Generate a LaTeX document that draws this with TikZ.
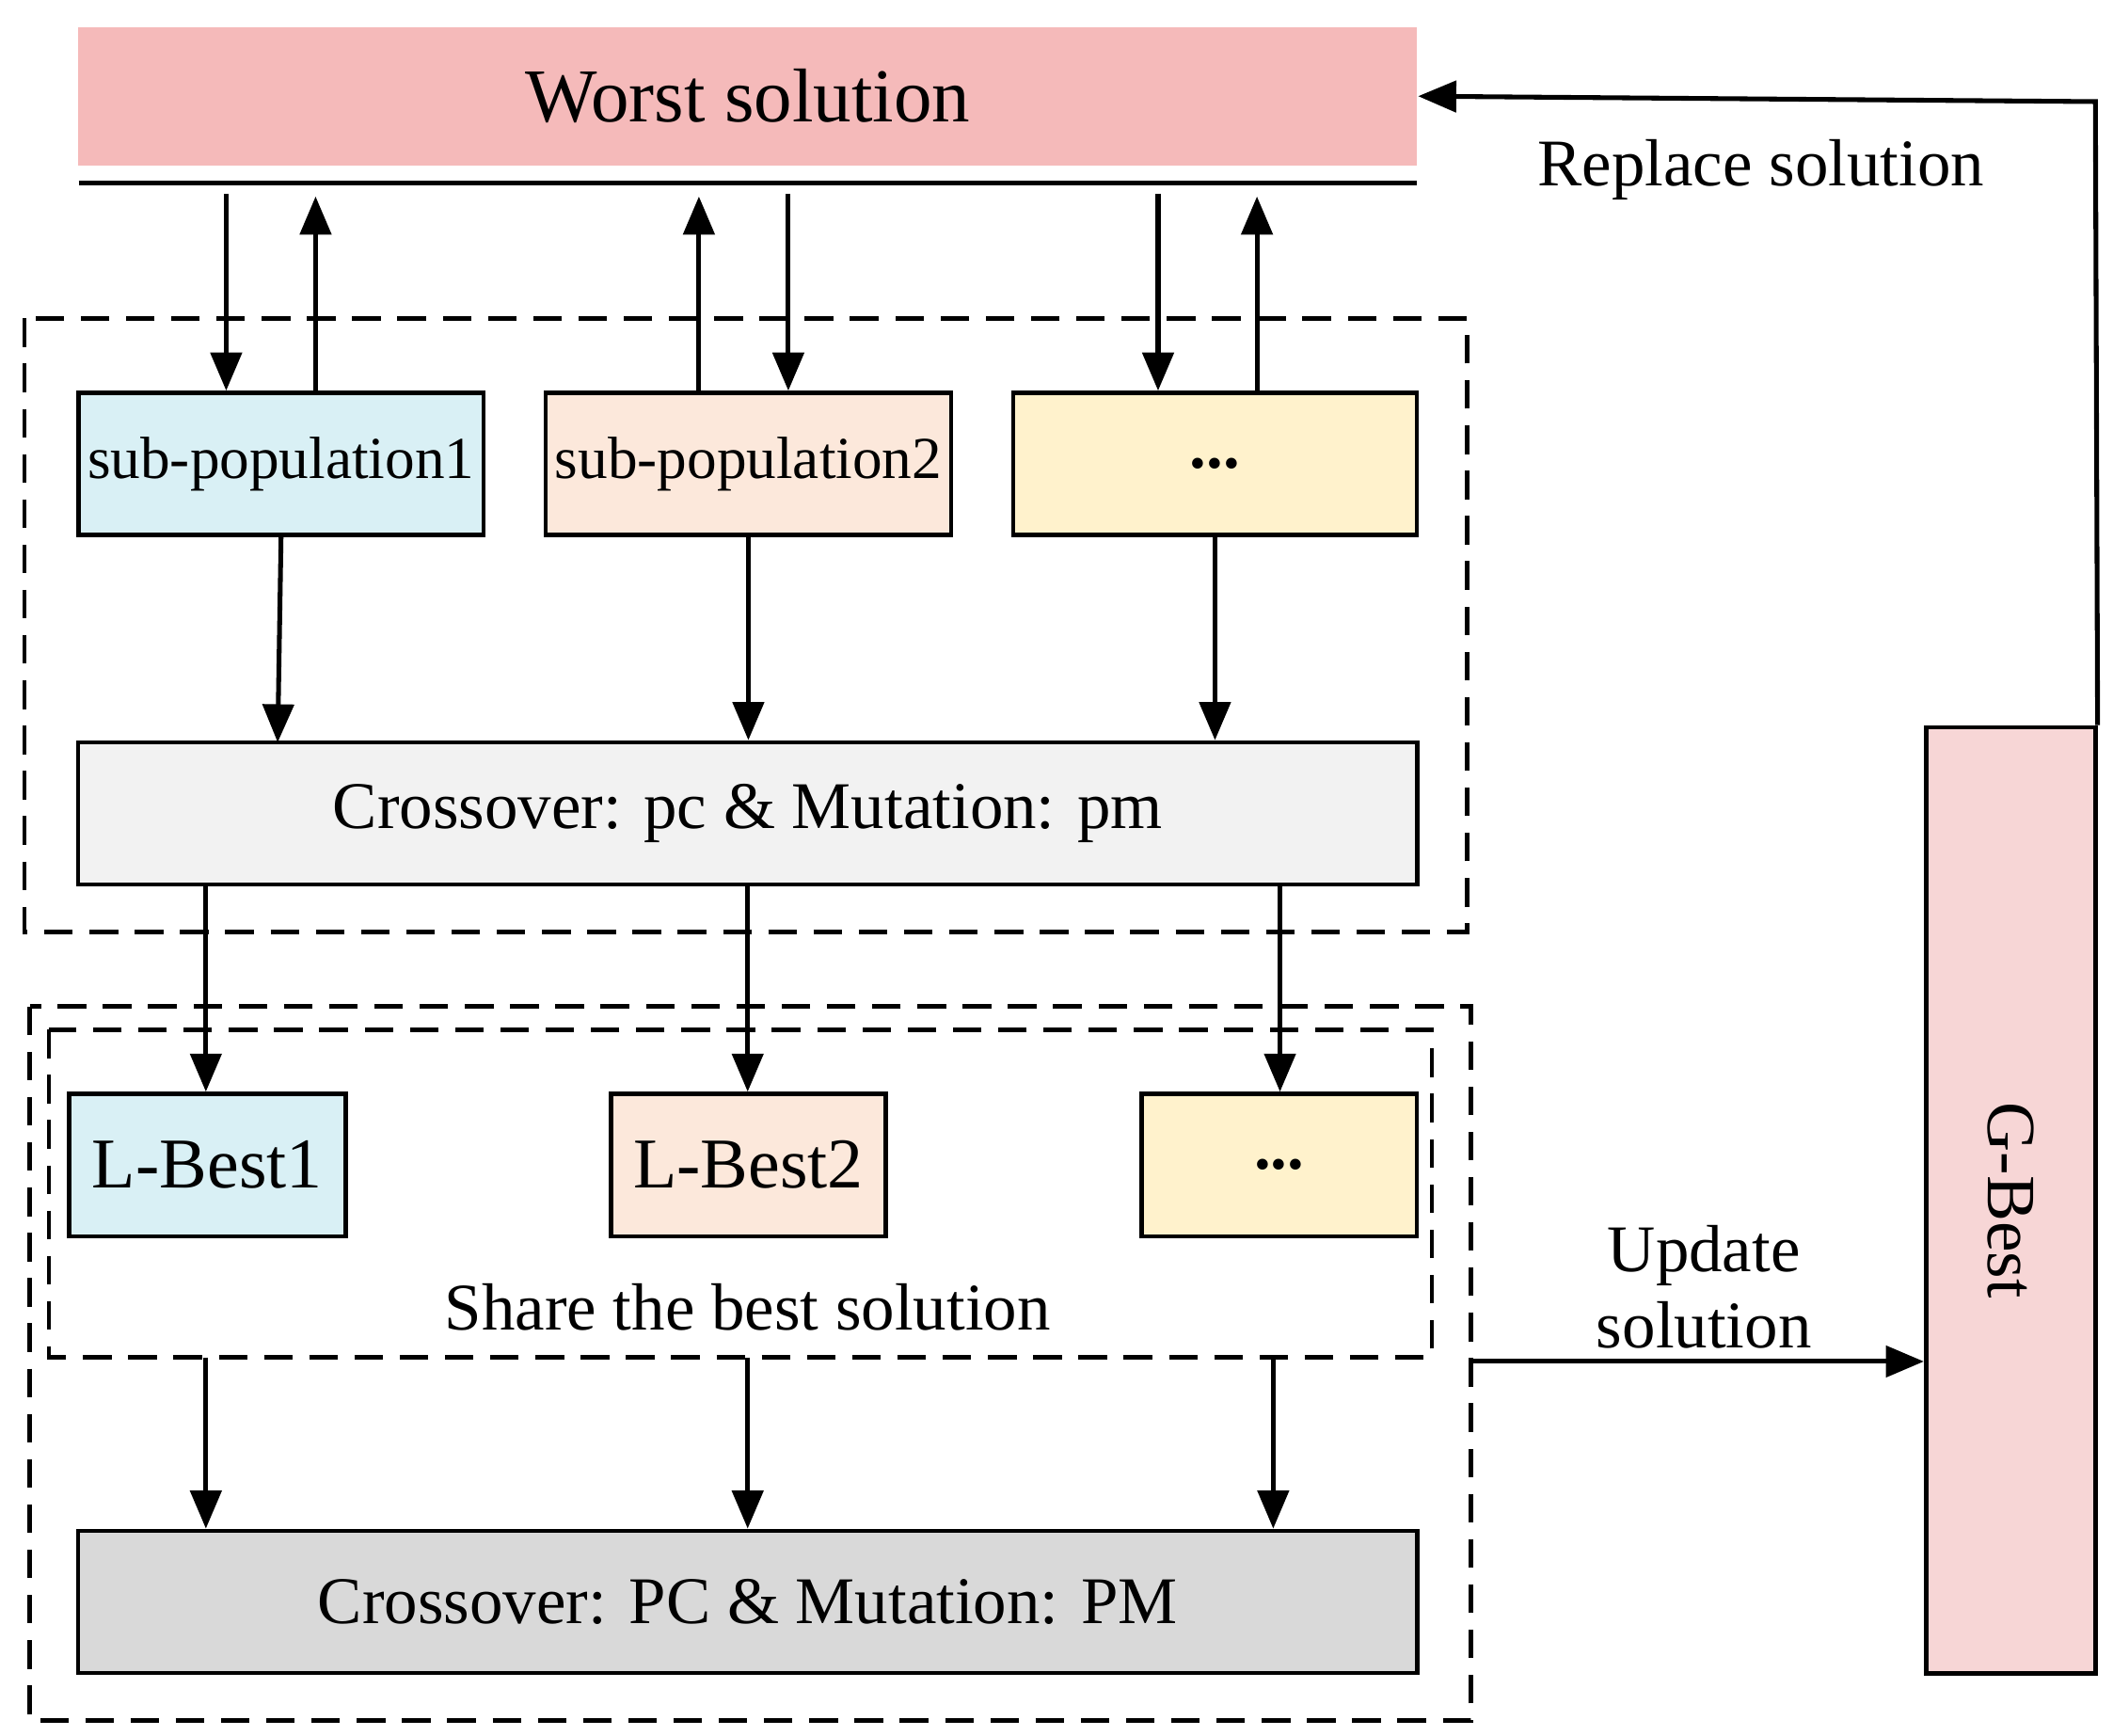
\documentclass[tikz,border=0pt]{standalone}
\usepackage{fontspec}
\setmainfont{Liberation Serif}
\usetikzlibrary{arrows.meta}
\definecolor{worstpink}{rgb}{0.96,0.73,0.73}
\definecolor{gbpink}{rgb}{0.97,0.84,0.84}
\definecolor{subblue}{rgb}{0.85,0.94,0.96}
\definecolor{subpeach}{rgb}{0.99,0.91,0.86}
\definecolor{subyellow}{rgb}{1,0.95,0.8}
\definecolor{crlight}{rgb}{0.95,0.95,0.95}
\definecolor{crgray}{rgb}{0.85,0.85,0.85}
\begin{document}
\begin{tikzpicture}[x=0.01cm,y=-0.01cm,line cap=butt,>={Triangle[length=8pt,width=6.5pt]},
	box/.style={draw,line width=0.9pt,inner sep=0pt},
	dashbox/.style={draw,line width=0.9pt,dash pattern=on 6pt off 3.5pt},
	flow/.style={->,line width=1pt}]
		\useasboundingbox (0,0) rectangle (1560,1281);
		\node[fill=worstpink,minimum width=9.88cm,minimum height=1.02cm,font=\fontsize{16}{18}\selectfont] (worst) at (552,71) {Worst solution};
		\draw[line width=1pt] (58,135) -- (1046,135);
		\draw[dashbox] (18,235) rectangle (1083,688);
		\draw[dashbox] (22,743) rectangle (1086,1270);
		\draw[dashbox] (36,760) rectangle (1057,1002);
		\begin{scope}[every node/.style={box,minimum height=1.05cm}]
			\node[fill=subblue,minimum width=2.99cm,font=\fontsize{12.5}{14}\selectfont] (sp1) at (207.5,342.5) {sub-population1};
			\node[fill=subpeach,minimum width=2.99cm,font=\fontsize{12.5}{14}\selectfont] (sp2) at (552.5,342.5) {sub-population2};
			\node[fill=subyellow,minimum width=2.98cm,font=\fontsize{14}{16}\selectfont\bfseries] (sp3) at (897,342.5) {...};
			\node[fill=crlight,minimum width=9.88cm,font=\fontsize{14}{16}\selectfont] (cr1) at (552,600.5) {Crossover: pc \& Mutation: pm};
			\node[fill=subblue,minimum width=2.04cm,font=\fontsize{15}{17}\selectfont] (lb1) at (153,860) {L-Best1};
			\node[fill=subpeach,minimum width=2.03cm,font=\fontsize{15}{17}\selectfont] (lb2) at (552.5,860) {L-Best2};
			\node[fill=subyellow,minimum width=2.03cm,font=\fontsize{14}{16}\selectfont\bfseries] (lb3) at (944.5,860) {...};
			\node[fill=crgray,minimum width=9.88cm,font=\fontsize{14}{16}\selectfont] (cr2) at (552,1182.5) {Crossover: PC \& Mutation: PM};
			\node[fill=gbpink,minimum width=6.98cm,minimum height=1.25cm,rotate=-90,font=\fontsize{14.5}{16}\selectfont] (gb) at (1484.5,886) {G-Best};
		\end{scope}
		\node[font=\fontsize{14}{16}\selectfont] (share) at (552,965) {Share the best solution};
		\node[font=\fontsize{14}{16}\selectfont] (replace) at (1300,125) {Replace solution};
		\node[font=\fontsize{14}{16}\selectfont,align=center] (update) at (1258,950) {Update\\solution};
		% worst line <-> sub-populations
		\foreach \d/\u/\n in {167/233/sp1,582/516/sp2,855/928/sp3}{
			\coordinate (d\n) at (\d,143);
			\coordinate (u\n) at (\u,145);
			\draw[flow] (d\n) -- (d\n |- \n.north);
			\draw[flow] (u\n |- \n.north) -- (u\n);
		}
		\draw[flow] (sp1.south) -- (205,548);
		\draw[flow] (sp2.south) -- (sp2.south |- cr1.north);
		\draw[flow] (sp3.south) -- (sp3.south |- cr1.north);
		% crossover -> local best
		\foreach \x/\n in {152/lb1,552/lb2,945/lb3}{
			\coordinate (c\n) at (\x,653);
			\draw[flow] (c\n) -- (c\n |- \n.north);
		}
		\foreach \x/\n in {152/a,552/b,940/c}{
			\coordinate (s\n) at (\x,1002);
			\draw[flow] (s\n) -- (s\n |- cr2.north);
		}
		\coordinate (out) at (1086,1005);
		\draw[flow] (out) -- (out -| gb.south);
		\coordinate (turn) at (1547,75);
		\draw[flow] (gb.north west) -- (turn) -- (worst.east);
\end{tikzpicture}
\end{document}
